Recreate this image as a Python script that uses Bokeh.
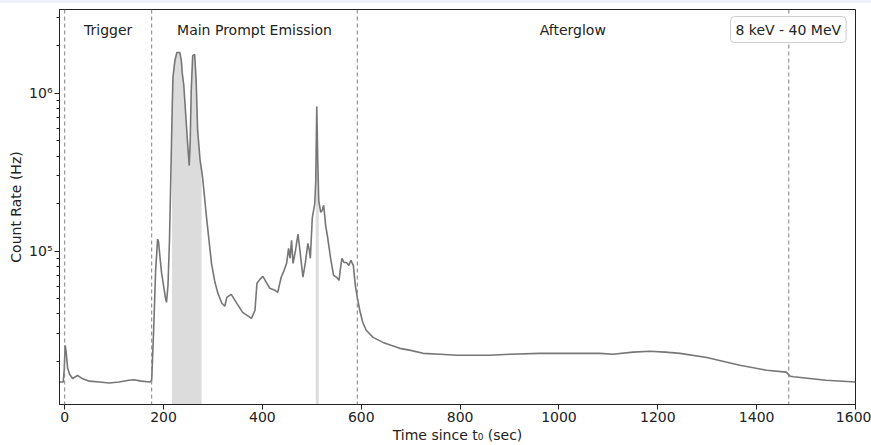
import numpy as np
from bokeh.plotting import figure
from bokeh.models import Range1d, Span, Label, FixedTicker, CustomJSTickFormatter, Div
from bokeh.layouts import column
from bokeh.embed import file_html
from bokeh.resources import INLINE
from bokeh.core.properties import value

# ---- data ----
time_s = [-10, -3, -1, 1, 3, 6, 10, 16, 26, 35, 50, 70, 90, 110, 130, 140, 155, 172,
          176, 180, 184, 188, 190, 193, 196, 200, 204, 206, 209, 212, 215, 217, 219, 223,
          227, 233, 236, 238, 241, 245, 249, 252, 254, 256, 259, 263, 266, 269, 274, 277,
          279, 287, 297, 304, 310, 318, 324, 328, 337, 347, 360, 378, 385, 389, 395, 401,
          408, 415, 425, 431, 438, 444, 449, 453, 456, 459, 462, 467, 472, 476, 482, 487,
          492, 495, 497, 501, 506, 508, 510, 512, 514, 518, 521, 524, 528, 532, 538, 544,
          550, 555, 558, 561, 565, 570, 575, 579, 584, 588, 592, 597, 603, 610, 624, 644,
          660, 678, 700, 725, 760, 793, 860, 900, 961, 1028, 1083, 1109, 1150, 1184, 1215,
          1245, 1299, 1366, 1420, 1460, 1468, 1475, 1540, 1600]
rate_hz = [1.48e4, 1.48e4, 1.76e4, 2.53e4, 2.29e4, 1.81e4, 1.66e4, 1.56e4, 1.63e4, 1.56e4,
           1.50e4, 1.48e4, 1.46e4, 1.48e4, 1.52e4, 1.53e4, 1.50e4, 1.48e4,
           1.52e4, 3.15e4, 7.55e4, 1.19e5, 1.14e5, 9.0e4, 7.3e4, 6.07e4, 5.02e4, 4.73e4,
           6.07e4, 1.17e5, 3.24e5, 6.7e5, 1.26e6, 1.61e6,
           1.81e6, 1.81e6, 1.61e6, 1.33e6, 1.12e6, 7.23e5, 4.67e5, 3.48e5, 5.02e5, 1.04e6,
           1.73e6, 1.76e6, 1.20e6, 5.81e5, 3.75e5, 3.24e5,
           2.93e5, 1.63e5, 8.36e4, 6.34e4, 5.40e4, 4.67e4, 4.47e4, 5.09e4, 5.32e4, 4.73e4,
           4.09e4, 3.75e4, 4.22e4, 6.25e4, 6.62e4, 6.92e4,
           6.34e4, 5.81e4, 5.65e4, 5.48e4, 6.83e4, 7.55e4, 8.36e4, 1.04e5, 9.0e4, 1.17e5,
           8.36e4, 1.01e5, 1.28e5, 1.01e5, 6.83e4, 8.47e4,
           1.12e5, 1.01e5, 9.0e4, 1.63e5, 2.0e5, 2.80e5, 8.24e5, 3.75e5, 2.09e5, 1.76e5,
           1.81e5, 1.95e5, 1.45e5, 1.22e5, 9.0e4, 7.01e4,
           6.83e4, 6.53e4, 7.78e4, 9.0e4, 8.47e4, 8.47e4, 8.11e4, 8.73e4, 8.11e4, 6.07e4,
           5.09e4, 4.22e4, 3.54e4, 3.15e4, 2.84e4, 2.64e4,
           2.53e4, 2.42e4, 2.35e4, 2.25e4, 2.22e4, 2.19e4, 2.19e4, 2.22e4, 2.25e4, 2.25e4,
           2.25e4, 2.22e4, 2.29e4, 2.32e4, 2.29e4,
           2.25e4, 2.12e4, 1.89e4, 1.76e4, 1.71e4, 1.61e4, 1.60e4, 1.52e4, 1.48e4]

phase_bounds = [0, 176, 592, 1465]
phase_names = ["Trigger", "Main Prompt Emission", "Afterglow"]
phase_label_x = [88, 384, 1028]
phase_label_y = 2.5e6
shade_main = (217, 277)
shade_spike = (508, 514)
energy_band = "8 keV - 40 MeV"
x_ticks = [0, 200, 400, 600, 800, 1000, 1200, 1400, 1600]
y_ticks = [1e5, 1e6]
y_minor = [m * 10**e for e in (4, 5) for m in range(2, 10)] + [2e6, 3e6]

t = np.array(time_s, dtype=float)
r = np.array(rate_hz, dtype=float)

FONT = "DejaVu Sans"
FS = "14px"

p = figure(width=871, height=442, output_backend="svg", toolbar_location=None,
           y_axis_type="log",
           x_range=Range1d(-10.5, 1600), y_range=Range1d(1.067e4, 3.39e6),
           min_border_left=59, min_border_right=16, min_border_top=6, min_border_bottom=41)
p.background_fill_color = "white"
p.border_fill_color = "white"
p.outline_line_color = "#222222"
p.outline_line_width = 1
p.xgrid.visible = False
p.ygrid.visible = False

# shaded regions under the curve
m1 = (t >= shade_main[0]) & (t <= shade_main[1])
p.varea(x=t[m1], y1=np.full(m1.sum(), 1e3), y2=r[m1], fill_color="#dcdcdc")
m2 = (t >= shade_spike[0]) & (t <= shade_spike[1])
p.varea(x=t[m2], y1=np.full(m2.sum(), 1e3), y2=r[m2], fill_color="#dcdcdc")

for b in phase_bounds:
    p.add_layout(Span(location=b, dimension="height", line_color="#808080",
                      line_dash="4 3", line_width=1))

p.line(t, r, line_color="#767676", line_width=1.6)

p.text(x=phase_label_x, y=[phase_label_y] * 3, text=phase_names,
       text_font=value(FONT), text_font_size=FS, text_align="center",
       text_baseline="middle", text_color="#222222")

p.add_layout(Label(x=1464, y=2.53e6, text=energy_band, text_align="center",
                   text_baseline="middle", text_font=FONT, text_font_size=FS,
                   text_color="#222222", border_line_color="#cccccc",
                   background_fill_color="white", padding=5, border_radius=4))

# axes
p.xaxis.ticker = FixedTicker(ticks=x_ticks)
p.yaxis.ticker = FixedTicker(ticks=y_ticks, minor_ticks=y_minor)
p.yaxis.formatter = CustomJSTickFormatter(code="""
const e = Math.round(Math.log10(tick));
const sup = {'0':'\u2070','1':'\u00b9','2':'\u00b2','3':'\u00b3','4':'\u2074','5':'\u2075','6':'\u2076','7':'\u2077','8':'\u2078','9':'\u2079'};
return '10' + String(e).split('').map(c => sup[c]).join('');
""")
p.xaxis.axis_label = "Time since t\u2080 (sec)"
p.yaxis.axis_label = "Count Rate (Hz)"
for ax in (p.xaxis, p.yaxis):
    ax.axis_label_text_font = FONT
    ax.axis_label_text_font_size = FS
    ax.axis_label_text_font_style = "normal"
    ax.axis_label_text_color = "#222222"
    ax.major_label_text_font = FONT
    ax.major_label_text_font_size = FS
    ax.major_label_text_color = "#222222"
    ax.axis_line_color = "#222222"
    ax.major_tick_line_color = "#222222"
    ax.major_tick_out = 5
    ax.major_tick_in = 0
    ax.major_label_standoff = 2
    ax.axis_label_standoff = 2
p.xaxis.minor_tick_line_color = None
p.yaxis.minor_tick_line_color = "#222222"
p.yaxis.minor_tick_out = 3
p.yaxis.minor_tick_in = 0

strip = Div(width=871, height=3, margin=0, styles={"background-color": "#eef2fc"})
layout = column(strip, p, spacing=0, margin=0)

open("out.html", "w").write(file_html(layout, INLINE))
